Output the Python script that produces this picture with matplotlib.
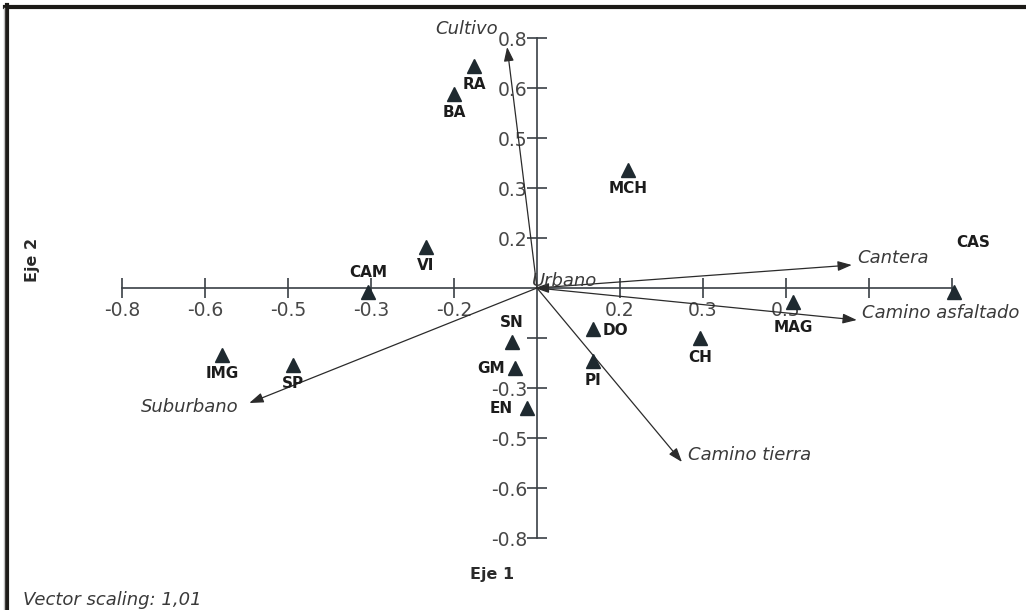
import matplotlib.pyplot as plt
from matplotlib.lines import Line2D

# sitios (triangulos) en el plano Eje 1 / Eje 2
sitios = ['RA', 'BA', 'MCH', 'CAM', 'VI', 'CAS', 'IMG', 'SP', 'SN', 'GM', 'EN', 'DO', 'PI', 'CH', 'MAG']
eje1 = [-0.114, -0.150, 0.164, -0.305, -0.201, 0.754, -0.569, -0.441, -0.045, -0.040, -0.018, 0.101, 0.101, 0.295, 0.463]
eje2 = [0.666, 0.582, 0.354, -0.012, 0.123, -0.012, -0.201, -0.231, -0.162, -0.240, -0.360, -0.123, -0.219, -0.150, -0.042]

# vectores de variables ambientales
variables = ['Cultivo', 'Cantera', 'Camino asfaltado', 'Camino tierra', 'Suburbano', 'Urbano']
vec1 = [-0.054, 0.569, 0.578, 0.262, -0.520, -0.004]
vec2 = [0.723, 0.069, -0.096, -0.522, -0.345, 0.0]

ticks = [-0.75, -0.6, -0.45, -0.3, -0.15, 0.15, 0.3, 0.45, 0.6, 0.75]
# las etiquetas tapadas en el original quedan vacias
xtick_labels = ['-0.8', '-0.6', '-0.5', '-0.3', '-0.2', '0.2', '0.3', '0.5', '', '']
ytick_labels = ['-0.8', '-0.6', '-0.5', '-0.3', '', '0.2', '0.3', '0.5', '0.6', '0.8']

# posicion de cada etiqueta respecto al triangulo (puntos, alineacion)
etiq_pos = {
    'RA': (0, -13, 'center'), 'BA': (0, -13, 'center'), 'MCH': (0, -13, 'center'),
    'CAM': (0, 14, 'center'), 'VI': (0, -13, 'center'), 'CAS': (14, 36, 'center'),
    'IMG': (0, -13, 'center'), 'SP': (0, -13, 'center'), 'SN': (0, 14, 'center'),
    'GM': (-7, 0, 'right'), 'EN': (-10, 0, 'right'), 'DO': (7, -1, 'left'),
    'PI': (0, -14, 'center'), 'CH': (0, -14, 'center'), 'MAG': (0, -18, 'center'),
}
vec_pos = {
    'Cultivo': (-6.5, 13, 'right'), 'Cantera': (4, 5, 'left'),
    'Camino asfaltado': (4, 5, 'left'), 'Camino tierra': (4, 5, 'left'),
    'Suburbano': (-8, -3, 'right'), 'Urbano': (-2, 5, 'left'),
}

axis_color = '#3a4045'

fig = plt.figure(figsize=(10.26, 6.10), dpi=100)
ax = fig.add_axes([0, 0, 1, 1])

# escala: 0.15 unidades = 83 px en x, 50 px en y; origen en (537, 288) px
px = 0.15 / 83
py = 0.15 / 50
ax.set_xlim(-537 * px, (1026 - 537) * px)
ax.set_ylim(-(610 - 288) * py, 288 * py)

for s in ['top', 'right']:
    ax.spines[s].set_visible(False)
for s in ['left', 'bottom']:
    ax.spines[s].set_position(('data', 0))
    ax.spines[s].set_bounds(-0.75, 0.75)
    ax.spines[s].set_color(axis_color)
    ax.spines[s].set_linewidth(1.2)

ax.set_xticks(ticks)
ax.set_xticklabels(xtick_labels)
ax.set_yticks(ticks)
ax.set_yticklabels(ytick_labels)
ax.tick_params(direction='inout', length=14, width=1.2, color=axis_color,
               labelsize=13.5, labelcolor='#474747')
ax.tick_params(axis='x', pad=2)
ax.tick_params(axis='y', pad=0)

# vectores
for name, vx, vy in zip(variables, vec1, vec2):
    ax.annotate('', xy=(vx, vy), xytext=(0, 0),
                arrowprops=dict(arrowstyle='-|>,head_length=0.85,head_width=0.3',
                                color='#2b2b2b', lw=0.9, shrinkA=0, shrinkB=0,
                                mutation_scale=10), zorder=3)
    dx, dy, ha = vec_pos[name]
    box = None
    z = 4
    if name == 'Camino asfaltado':
        box = dict(facecolor='white', edgecolor='none', pad=2.5)
    if name == 'Cultivo':
        z = 2
    ax.annotate(name, (vx, vy), xytext=(dx, dy), textcoords='offset points',
                ha=ha, va='center', fontsize=13, style='italic', color='#3a3a3a',
                bbox=box, zorder=z)

# sitios
ax.plot(eje1, eje2, linestyle='none', marker='^', markersize=10,
        color='#1f2a30', zorder=5)
for name, x, y in zip(sitios, eje1, eje2):
    dx, dy, ha = etiq_pos[name]
    ax.annotate(name, (x, y), xytext=(dx, dy), textcoords='offset points',
                ha=ha, va='center', fontsize=11, fontweight='bold', color='#1c1c1c',
                zorder=6)

# titulos de ejes y nota
fig.text(33 / 1026, 1 - 260 / 610, 'Eje 2', rotation=90, ha='center', va='center',
         fontsize=11.5, fontweight='bold', color='#2a2a2a')
fig.text(492 / 1026, 1 - 574 / 610, 'Eje 1', ha='center', va='center',
         fontsize=11.5, fontweight='bold', color='#2a2a2a')
fig.text(23 / 1026, 1 - 600 / 610, 'Vector scaling: 1,01', ha='left', va='center',
         fontsize=13, style='italic', color='#3a3a3a')

# marco superior e izquierdo
fig.add_artist(Line2D([5 / 1026, 1], [1 - 6.5 / 610] * 2, transform=fig.transFigure,
                      lw=3, color='#1c1a17'))
fig.add_artist(Line2D([6.5 / 1026] * 2, [0, 1 - 5 / 610], transform=fig.transFigure,
                      lw=3, color='#1c1a17'))
fig.add_artist(Line2D([3.5 / 1026] * 2, [0, 1 - 8 / 610], transform=fig.transFigure,
                      lw=1, color='#c0c0c0'))

fig.savefig('out.png', dpi=100, facecolor='white')
